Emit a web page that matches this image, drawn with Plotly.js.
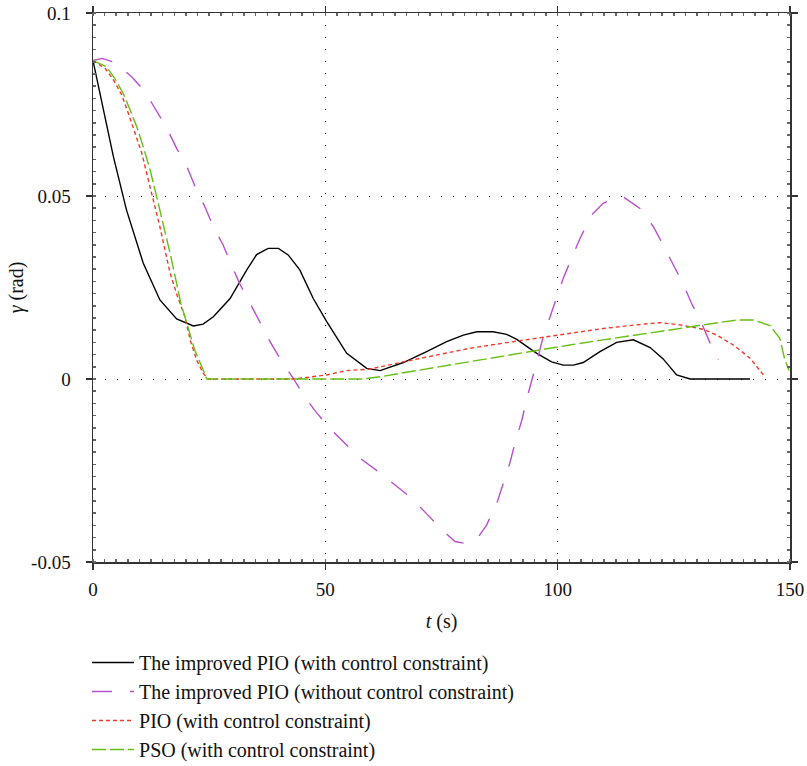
<!DOCTYPE html>
<html>
<head>
<meta charset="utf-8">
<script src="https://cdn.plot.ly/plotly-3.0.1.min.js"></script>
<style>body{margin:0;background:#fff;} #chart{width:807px;height:766px;}</style>
</head>
<body>
<div id="chart"></div>
<script>
// Series: improved PIO (with control constraint)
const tBlack = [0, 2.2, 4.4, 7.2, 10.8, 14.4, 18, 21.6, 23.7, 25.9, 29.5, 33.1, 35.2, 37.7, 39.9, 42, 44.5, 47.4, 50.3, 54.6, 58.9, 61.8, 66.8, 71.8, 76.1, 79.7, 82.6, 86.1, 89, 91.2, 95.5, 98.7, 101.2, 103.4, 105.5, 109.1, 112.7, 116.3, 119.9, 122.7, 125.6, 128.5, 141.4];
const yBlack = [0.087, 0.0735, 0.0607, 0.0462, 0.0317, 0.0216, 0.0164, 0.0145, 0.015, 0.017, 0.022, 0.0298, 0.034, 0.0357, 0.0357, 0.0339, 0.0298, 0.022, 0.0157, 0.007, 0.0029, 0.0023, 0.0045, 0.0075, 0.0102, 0.012, 0.0129, 0.0129, 0.0122, 0.0108, 0.007, 0.0047, 0.0038, 0.0038, 0.0045, 0.0075, 0.01, 0.0107, 0.0086, 0.0055, 0.0011, 0, 0];

// Series: improved PIO (without control constraint)
const tMagenta = [0, 2, 4.7, 8.3, 11.2, 13.7, 15.9, 18, 20.2, 22, 24.1, 25.9, 28, 29.8, 31.6, 33.8, 35.9, 38.1, 40.2, 43.1, 45.3, 48.1, 51, 54.2, 57.5, 61.4, 64.6, 68.6, 71.4, 75, 77.9, 80, 82.6, 84.7, 86.9, 88.3, 89.7, 90.8, 92.3, 93.3, 94.5, 95.8, 96.9, 98.3, 99.8, 101.2, 103, 104.8, 107.3, 109.8, 112, 114.1, 117.7, 120.6, 122.7, 124.9, 127, 128.8, 131, 132.8, 134.6];
const yMagenta = [0.087, 0.0876, 0.0865, 0.0826, 0.0785, 0.073, 0.0685, 0.063, 0.058, 0.0525, 0.047, 0.0416, 0.0366, 0.0311, 0.026, 0.0207, 0.0157, 0.0102, 0.0057, 0.0002, -0.0044, -0.0092, -0.0135, -0.0176, -0.0217, -0.0253, -0.0285, -0.0326, -0.0363, -0.0411, -0.0444, -0.0449, -0.0438, -0.0399, -0.034, -0.0285, -0.023, -0.0176, -0.0112, -0.0057, -0.0003, 0.0061, 0.0116, 0.0166, 0.0225, 0.0275, 0.033, 0.0384, 0.0448, 0.048, 0.0492, 0.0498, 0.0466, 0.0416, 0.0366, 0.0311, 0.026, 0.0207, 0.0152, 0.0098, 0.0052];

// Series: PIO (with control constraint)
const tRed = [0, 2.6, 4.4, 6.2, 7.6, 9, 10.5, 11.9, 13, 14.4, 15.5, 16.6, 18.2, 19.8, 20.9, 22.3, 23.7, 24.8, 43.1, 47.3, 50.3, 54.6, 59.6, 66.8, 73.9, 81.1, 88.3, 95.5, 102.6, 109.8, 117, 122, 126.3, 131.3, 134.2, 137.8, 141.4, 144.6];
const yRed = [0.087, 0.0849, 0.0817, 0.0776, 0.0726, 0.0671, 0.0617, 0.0544, 0.0489, 0.0416, 0.0352, 0.0289, 0.0225, 0.017, 0.0107, 0.0052, 0.0016, 0, 0, 0.0006, 0.0011, 0.0023, 0.0027, 0.0047, 0.0066, 0.0084, 0.0098, 0.0111, 0.0125, 0.0138, 0.0148, 0.0154, 0.0148, 0.0136, 0.012, 0.0093, 0.0057, 0.0006];

// Series: PSO (with control constraint)
const tGreen = [0, 2.9, 4.7, 6.5, 8, 9.4, 10.8, 12.3, 13.7, 15.1, 16.6, 18, 18.9, 20.2, 21.9, 23.4, 24.5, 58, 61.8, 66.8, 73.9, 81.1, 88.3, 95.5, 102.6, 109.8, 117, 124.2, 131.3, 138.5, 142.1, 145.7, 147.8, 148.9, 149.8];
const yGreen = [0.087, 0.0853, 0.0821, 0.078, 0.0735, 0.069, 0.0635, 0.0571, 0.0498, 0.0425, 0.0343, 0.0261, 0.0207, 0.0152, 0.0079, 0.0034, 0, 0, 0.0006, 0.0017, 0.0032, 0.0047, 0.0064, 0.0079, 0.0093, 0.0107, 0.012, 0.0134, 0.0148, 0.0161, 0.0161, 0.0146, 0.0111, 0.0052, 0.0023];

const seriesNames = [
  'The improved PIO (with control constraint)',
  'The improved PIO (without control constraint)',
  'PIO (with control constraint)',
  'PSO (with control constraint)'
];

const xTickVals = [0, 50, 100, 150];
const xTickText = ['0', '50', '100', '150'];
const yTickVals = [-0.05, 0, 0.05, 0.1];
const yTickText = ['-0.05', '0', '0.05', '0.1'];

const FONT = 'Liberation Serif, Times New Roman, serif';

const traces = [
  {x: tBlack, y: yBlack, name: seriesNames[0], mode: 'lines', line: {color: '#000000', width: 1.4}},
  {x: tMagenta, y: yMagenta, name: seriesNames[1], mode: 'lines', line: {color: '#b84fcf', width: 1.4, dash: '20px,18px'}},
  {x: tRed, y: yRed, name: seriesNames[2], mode: 'lines', line: {color: '#f03a2a', width: 1.4, dash: '4px,3px'}},
  {x: tGreen, y: yGreen, name: seriesNames[3], mode: 'lines', line: {color: '#66bf14', width: 1.4, dash: '14px,4px'}}
];

const axisCommon = {
  showline: true, linecolor: '#333', linewidth: 1.5, mirror: 'ticks',
  ticks: 'outside', ticklen: 6, tickcolor: '#333', tickwidth: 1.5,
  showgrid: true, gridcolor: '#000', gridwidth: 1, griddash: '1px,11px',
  zeroline: false,
  tickfont: {family: FONT, size: 19, color: '#111'}
};

const layout = {
  width: 807, height: 766,
  paper_bgcolor: '#fff', plot_bgcolor: '#fff',
  margin: {l: 93, r: 17, t: 13, b: 204},
  showlegend: true,
  xaxis: Object.assign({}, axisCommon, {
    range: [0, 150], tickvals: xTickVals, ticktext: xTickText, ticklabelstandoff: 4,
    minor: {ticks: 'inside', ticklen: 3, dtick: 2.5, tickcolor: '#666', showgrid: false},
    title: {text: '<i>t</i> (s)', font: {family: FONT, size: 20, color: '#111'}, standoff: 14}
  }),
  yaxis: Object.assign({}, axisCommon, {
    range: [-0.05, 0.1], tickvals: yTickVals, ticktext: yTickText, ticklabelstandoff: 11,
    minor: {ticks: 'inside', ticklen: 3, dtick: 0.0033333, tickcolor: '#666', showgrid: false},
    title: {text: '<i>γ</i> (rad)', font: {family: FONT, size: 20, color: '#111'}, standoff: 2}
  }),
  legend: {
    x: -0.0086, xanchor: 'left', xref: 'paper',
    y: 0.1606, yanchor: 'top', yref: 'container',
    orientation: 'v', bgcolor: 'rgba(0,0,0,0)',
    font: {family: FONT, size: 20, color: '#111'},
    itemwidth: 42,
    tracegroupgap: 0
  }
};

Plotly.newPlot('chart', traces, layout, {displayModeBar: false, staticPlot: true});
</script>
</body>
</html>
